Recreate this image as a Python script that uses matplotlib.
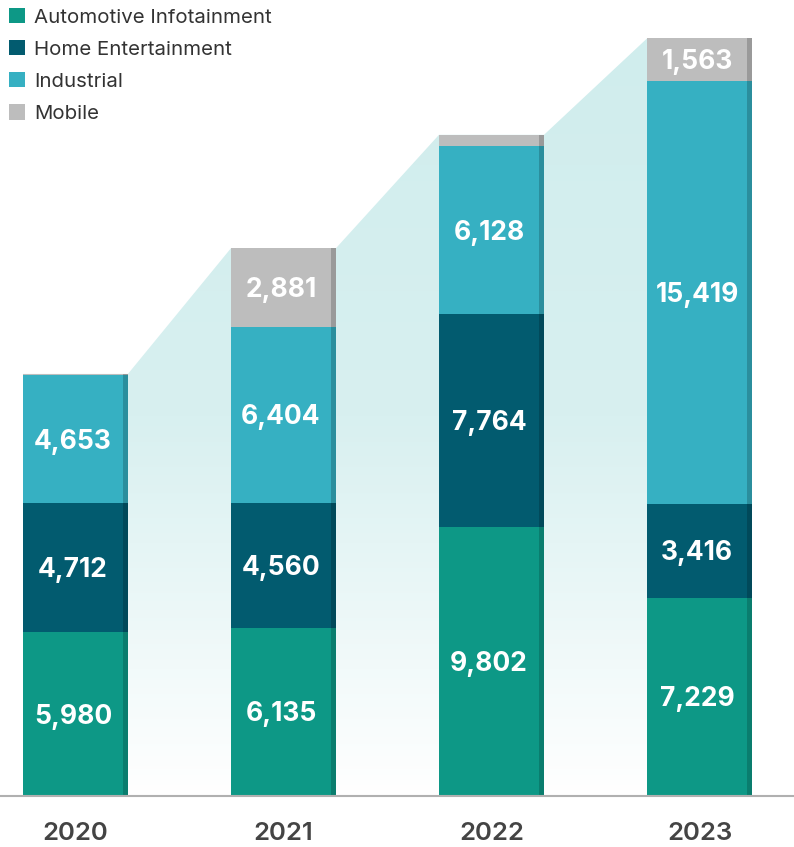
import numpy as np
import matplotlib.pyplot as plt
from matplotlib.patches import Patch, Polygon
from matplotlib.colors import LinearSegmentedColormap
from matplotlib.transforms import offset_copy

years = ["2020", "2021", "2022", "2023"]
series = ["Automotive Infotainment", "Home Entertainment", "Industrial", "Mobile"]
automotive = [5980, 6135, 9802, 7229]
home = [4712, 4560, 7764, 3416]
industrial = [4653, 6404, 6128, 15419]
mobile = [50, 2881, 420, 1563]

colors = ["#0d9886", "#025b6f", "#36b0c2", "#bdbdbd"]
edge_colors = ["#0a7d6e", "#01495a", "#2b8e9d", "#9a9a9a"]

plt.rcParams["font.family"] = ["Inter", "DejaVu Sans"]

W, H = 794, 847
fig = plt.figure(figsize=(W / 100, H / 100), dpi=100)
base_px = 796
ax = fig.add_axes([0, (H - base_px) / H, 1, base_px / H])

px_per_unit = 0.02742
ax.set_ylim(0, base_px / px_per_unit)
spacing = 208.0
first = 75.5
ax.set_xlim(-first / spacing, (W - first) / spacing)

x = np.arange(len(years))
width = 105 / spacing
strip = 5 / spacing

data = [automotive, home, industrial, mobile]
totals = np.sum(data, axis=0)

# gradient area joining bar tops
verts = [(x[0] - width / 2, 0)]
for i, t in enumerate(totals):
    verts.append((x[i] - width / 2, t))
    verts.append((x[i] + width / 2, t))
verts.append((x[-1] + width / 2, 0))
poly = Polygon(verts, closed=True, facecolor="none", edgecolor="none")
ax.add_patch(poly)
cmap = LinearSegmentedColormap.from_list("g", ["#ffffff", "#d8f0f0", "#d0eded"])
grad = np.linspace(0, 1, 256).reshape(-1, 1)
im = ax.imshow(grad, cmap=cmap, aspect="auto", origin="lower",
               extent=[ax.get_xlim()[0], ax.get_xlim()[1], 0, max(totals)],
               zorder=0.5)
im.set_clip_path(poly)

lbl_tr = offset_copy(ax.transData, fig=fig, x=0, y=-2.5, units="dots")
bottom = np.zeros(len(years))
for k, vals in enumerate(data):
    vals = np.array(vals)
    ax.bar(x, vals, width, bottom=bottom, color=colors[k], zorder=2, linewidth=0)
    ax.bar(x + width / 2 - strip / 2, vals, strip, bottom=bottom,
           color=edge_colors[k], zorder=2.1, linewidth=0)
    for i, v in enumerate(vals):
        if v * px_per_unit > 30:
            ax.text(x[i] - strip / 2, bottom[i] + v / 2, f"{v:,}", ha="center",
                    va="center", color="white", fontsize=19, fontweight="bold",
                    zorder=3, transform=lbl_tr)
    bottom += vals

ax.set_xticks(x)
ax.set_xticklabels(years, fontsize=18.5, color="#444444", fontweight="semibold")
ax.tick_params(axis="x", length=0, pad=19)
ax.set_yticks([])
for s in ["top", "right", "left"]:
    ax.spines[s].set_visible(False)
ax.spines["bottom"].set_color("#b0b0b0")
ax.spines["bottom"].set_linewidth(1.5)

handles = [Patch(facecolor=c, edgecolor="none") for c in colors]
leg = fig.legend(handles, series, loc="upper left", bbox_to_anchor=(-0.004, 1.005),
                 frameon=False, fontsize=14.7, handlelength=0.78, handleheight=0.78,
                 handletextpad=0.45, labelspacing=0.65, borderaxespad=0.2)
for t in leg.get_texts():
    t.set_color("#333333")

fig.savefig("out.png", dpi=100)
